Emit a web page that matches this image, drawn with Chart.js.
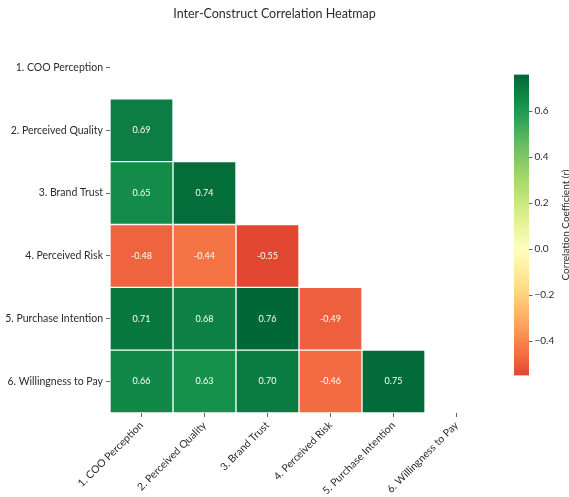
<!DOCTYPE html>
<html>
<head>
<meta charset="utf-8">
<title>Inter-Construct Correlation Heatmap</title>
<script src="https://cdn.jsdelivr.net/npm/chart.js@4.4.1/dist/chart.umd.min.js"></script>
<style>
  html, body { margin: 0; padding: 0; background: #fff; }
  #wrap { position: relative; width: 569px; height: 497px; }
  #heatmap { position: absolute; left: 0; top: 0; }
  #colorbar { position: absolute; left: 495px; top: 0; }
</style>
</head>
<body>
<div id="wrap">
  <canvas id="heatmap" width="549" height="497"></canvas>
  <canvas id="colorbar" width="74" height="497"></canvas>
</div>
<script>
// --- data: lower triangle of the correlation matrix ---
const constructs = [
  "1. COO Perception",
  "2. Perceived Quality",
  "3. Brand Trust",
  "4. Perceived Risk",
  "5. Purchase Intention",
  "6. Willingness to Pay"
];
const rowQuality = [0.69];
const rowTrust = [0.65, 0.74];
const rowRisk = [-0.48, -0.44, -0.55];
const rowIntention = [0.71, 0.68, 0.76, -0.49];
const rowWtp = [0.66, 0.63, 0.70, -0.46, 0.75];
const lowerRows = [[], rowQuality, rowTrust, rowRisk, rowIntention, rowWtp];

const cbTicks = [-0.4, -0.2, 0.0, 0.2, 0.4, 0.6];
const cbLabel = "Correlation Coefficient (r)";

const allValues = lowerRows.flat();
const vmin = Math.min(...allValues);
const vmax = Math.max(...allValues);

const textColor = "#2b2b2b";
const fontStack = "Lato, 'Open Sans', sans-serif";
Chart.defaults.font.family = fontStack;
Chart.defaults.color = textColor;

// --- RdYlGn colormap, centred on zero ---
const rdylgn = ["#a50026", "#d73027", "#f46d43", "#fdae61", "#fee08b", "#ffffbf",
                "#d9ef8b", "#a6d96a", "#66bd63", "#1a9850", "#006837"];

function hexToRgb(h) {
  return [1, 3, 5].map(i => parseInt(h.slice(i, i + 2), 16));
}

function cmap(t) {
  t = Math.min(1, Math.max(0, t));
  const pos = t * (rdylgn.length - 1);
  const i = Math.min(Math.floor(pos), rdylgn.length - 2);
  const f = pos - i;
  const a = hexToRgb(rdylgn[i]), b = hexToRgb(rdylgn[i + 1]);
  const c = a.map((v, k) => Math.round(v + (b[k] - v) * f));
  return `rgb(${c[0]},${c[1]},${c[2]})`;
}

const halfRange = Math.max(Math.abs(vmin), Math.abs(vmax));
function cellColor(v) {
  return cmap(0.5 + 0.5 * v / halfRange);
}

// each cell is a floating bar spanning one row on the reversed y scale
const cells = [];
lowerRows.forEach((vals, r) => {
  vals.forEach((v, c) => {
    cells.push({ x: constructs[c], y: [r - 0.5, r + 0.5], v });
  });
});

const cellLabels = {
  id: "cellLabels",
  afterDatasetsDraw(chart) {
    const { ctx } = chart;
    const meta = chart.getDatasetMeta(0);
    ctx.save();
    ctx.font = "9px " + fontStack;
    ctx.fillStyle = "#ffffff";
    ctx.textAlign = "center";
    ctx.textBaseline = "middle";
    meta.data.forEach((el, i) => {
      const p = el.getCenterPoint();
      ctx.fillText(cells[i].v.toFixed(2), p.x, p.y);
    });
    ctx.restore();
  }
};

new Chart(document.getElementById("heatmap"), {
  type: "bar",
  data: {
    labels: constructs,
    datasets: [{
      data: cells,
      backgroundColor: ctx => ctx.raw ? cellColor(ctx.raw.v) : "#fff",
      borderColor: "rgba(255,255,255,0.85)",
      borderWidth: 1,
      borderSkipped: false,
      barPercentage: 1,
      categoryPercentage: 1
    }]
  },
  options: {
    responsive: false,
    animation: false,
    layout: { padding: 0 },
    plugins: {
      legend: { display: false },
      tooltip: { enabled: false },
      title: {
        display: true,
        text: "Inter-Construct Correlation Heatmap",
        color: textColor,
        font: { size: 12.5, weight: "normal" },
        padding: { top: 6, bottom: 15 }
      }
    },
    scales: {
      x: {
        type: "category",
        offset: true,
        grid: { drawOnChartArea: false, offset: false, tickLength: 4, color: "#666" },
        border: { display: false },
        ticks: { maxRotation: 45, minRotation: 45, padding: 2, font: { size: 10.5 }, color: textColor },
        afterFit: scale => { scale.height = 84; }
      },
      y: {
        type: "linear",
        reverse: true,
        min: -0.5,
        max: 5.5,
        grid: { drawOnChartArea: false, tickLength: 4, color: "#666" },
        border: { display: false },
        afterBuildTicks: scale => { scale.ticks = constructs.map((_, i) => ({ value: i })); },
        ticks: { padding: 3, font: { size: 10.5 }, color: textColor, callback: v => constructs[v] },
        afterFit: scale => { scale.width = 110; }
      },
      // empty spacer on the right, keeps room for the colour bar
      spacer: {
        type: "linear",
        position: "right",
        grid: { display: false },
        border: { display: false },
        ticks: { display: false },
        afterFit: scale => { scale.width = 61; }
      }
    }
  },
  plugins: [cellLabels]
});

// --- colour bar ---
function barGradient(context) {
  const chart = context.chart;
  const y = chart.scales.y;
  if (!chart.chartArea || !y) return cellColor(0);
  const g = chart.ctx.createLinearGradient(0, y.getPixelForValue(vmin), 0, y.getPixelForValue(vmax));
  const steps = 40;
  for (let i = 0; i <= steps; i++) {
    g.addColorStop(i / steps, cellColor(vmin + (vmax - vmin) * i / steps));
  }
  return g;
}

const colorbarTitle = {
  id: "colorbarTitle",
  afterDraw(chart) {
    const { ctx, chartArea } = chart;
    ctx.save();
    ctx.translate(71, (chartArea.top + chartArea.bottom) / 2);
    ctx.rotate(-Math.PI / 2);
    ctx.font = "10px " + fontStack;
    ctx.fillStyle = textColor;
    ctx.textAlign = "center";
    ctx.textBaseline = "middle";
    ctx.fillText(cbLabel, 0, 0);
    ctx.restore();
  }
};

new Chart(document.getElementById("colorbar"), {
  type: "bar",
  data: {
    labels: [""],
    datasets: [{
      data: [[vmin, vmax]],
      backgroundColor: barGradient,
      borderWidth: 0,
      barPercentage: 1,
      categoryPercentage: 1
    }]
  },
  options: {
    responsive: false,
    animation: false,
    layout: { padding: { left: 19, right: 0, top: 74.5, bottom: 121.5 } },
    plugins: { legend: { display: false }, tooltip: { enabled: false } },
    scales: {
      x: { display: false },
      y: {
        position: "right",
        min: vmin,
        max: vmax,
        grid: { drawOnChartArea: false, tickLength: 3.5, color: "#666" },
        border: { display: false },
        afterBuildTicks: scale => { scale.ticks = cbTicks.map(v => ({ value: v })); },
        ticks: {
          padding: 2,
          font: { size: 10 },
          color: textColor,
          callback: v => v.toFixed(1).replace("-", "\u2212")
        },
        afterFit: scale => { scale.width = 40; }
      }
    }
  },
  plugins: [colorbarTitle]
});
</script>
</body>
</html>
